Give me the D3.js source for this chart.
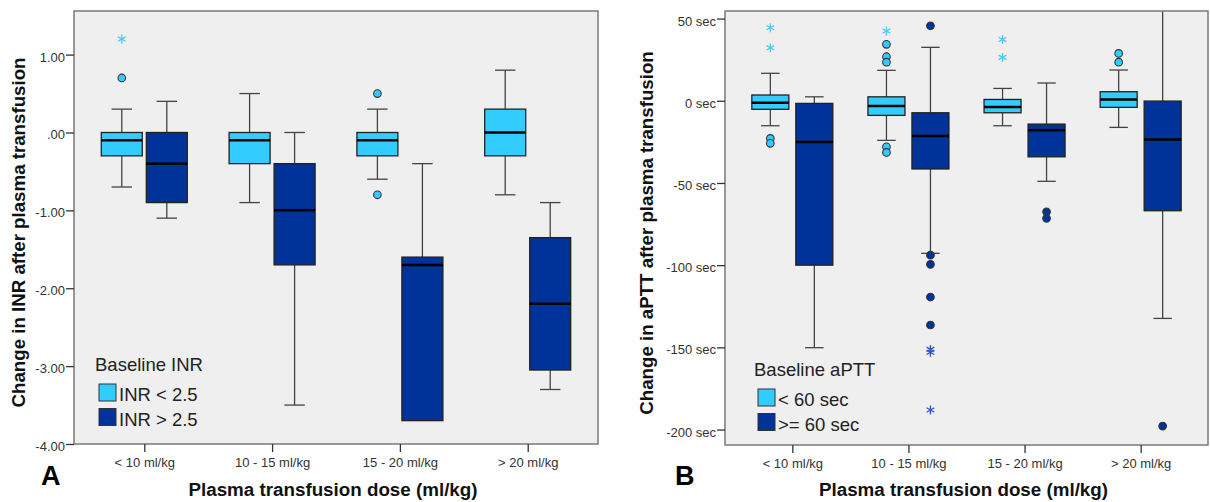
<!DOCTYPE html>
<html><head><meta charset="utf-8">
<script src="https://cdn.jsdelivr.net/npm/d3@7"></script>
<style>body{margin:0;background:#fff}svg{display:block;font-family:"Liberation Sans",Arial,sans-serif}</style>
</head><body><svg id="c" width="1210" height="502"></svg>
<script>
// ---------- data ----------
const doseCats = ["< 10 ml/kg", "10 - 15 ml/kg", "15 - 20 ml/kg", "> 20 ml/kg"];

// Panel A: change in INR, box stats [lowWhisker, Q1, median, Q3, highWhisker]
const inrLowBox  = [[-0.7,-0.3,-0.1,0.0,0.3],[-0.9,-0.4,-0.1,0.0,0.5],[-0.6,-0.3,-0.1,0.0,0.3],[-0.8,-0.3,0.0,0.3,0.8]];
const inrHighBox = [[-1.1,-0.9,-0.4,0.0,0.4],[-3.5,-1.7,-1.0,-0.4,0.0],[-3.7,-3.7,-1.7,-1.6,-0.4],[-3.3,-3.05,-2.2,-1.35,-0.9]];
const inrLowCircles  = [[0.7],[],[0.5,-0.8],[]];
const inrLowStars    = [[1.2],[],[],[]];
const inrHighCircles = [[],[],[],[]];
const inrHighStars   = [[],[],[],[]];
const inrTicks = [1, 0, -1, -2, -3, -4];
const inrTickLabels = ["1.00", ".00", "-1.00", "-2.00", "-3.00", "-4.00"];
const inrLegend = ["INR < 2.5", "INR > 2.5"];

// Panel B: change in aPTT (sec)
const apttLowBox  = [[-15.2,-5.2,-1.2,3.5,16.7],[-24.1,-8.9,-3.2,2.4,18.5],[-15.2,-7.3,-3.8,0.8,7.5],[-16.2,-4.0,0.8,5.5,18.7]];
const apttHighBox = [[-150.2,-100,-25.1,-1.6,2.4],[-92.8,-41.5,-21.5,-7.3,32.5],[-49,-34.1,-18,-14.2,10.8],[-132.4,-66.9,-23.5,-0.2,80]];
const apttLowCircles  = [[-22.9,-25.9],[34.3,26.8,23.5,-28,-31.4],[],[28.8,23.5]];
const apttLowStars    = [[44.4,32.2],[42.4],[37.3,26.4],[]];
const apttHighCircles = [[],[45.6,-93.9,-99.5,-119.4,-136.4],[-67.5,-71.5],[-197.9]];
const apttHighStars   = [[],[-151.2,-153,-188.1],[],[]];
const apttTicks = [50, 0, -50, -100, -150, -200];
const apttTickLabels = ["50 sec", "0 sec", "-50 sec", "-100 sec", "-150 sec", "-200 sec"];
const apttLegend = ["< 60 sec", ">= 60 sec"];

const LIGHT = "#33CCFF", DARK = "#003399";
const LIGHT_STAR = "#4FC8F5", DARK_STAR = "#3355BB";

const svg = d3.select("#c");

function drawPanel(cfg) {
  const g = svg.append("g");
  const x = d3.scalePoint().domain(doseCats).range([cfg.x0, cfg.x1]).padding(cfg.pad);
  const y = d3.scaleLinear().domain(cfg.yDomain).range([cfg.y1, cfg.y0]);

  g.append("rect").attr("x", cfg.x0).attr("y", cfg.y0)
    .attr("width", cfg.x1 - cfg.x0).attr("height", cfg.y1 - cfg.y0)
    .attr("fill", "#EFEFEF");

  const clipId = "clip" + cfg.id;
  svg.append("clipPath").attr("id", clipId).append("rect")
    .attr("x", cfg.x0).attr("y", cfg.y0).attr("width", cfg.x1 - cfg.x0).attr("height", cfg.y1 - cfg.y0);
  const plot = g.append("g").attr("clip-path", `url(#${clipId})`);

  const groups = [
    {box: cfg.lowBox, circles: cfg.lowCircles, stars: cfg.lowStars, off: -cfg.off, fill: LIGHT, star: LIGHT_STAR},
    {box: cfg.highBox, circles: cfg.highCircles, stars: cfg.highStars, off: cfg.off, fill: DARK, star: DARK_STAR}
  ];
  const bw = cfg.bw;
  groups.forEach(gr => {
    doseCats.forEach((cat, i) => {
      const [lo, q1, med, q3, hi] = gr.box[i];
      const cx = x(cat) + gr.off;
      const wl = plot.append("g").attr("stroke", "#444").attr("stroke-width", 1.3);
      wl.append("line").attr("x1", cx).attr("x2", cx).attr("y1", y(q3)).attr("y2", y(hi));
      wl.append("line").attr("x1", cx).attr("x2", cx).attr("y1", y(q1)).attr("y2", y(lo));
      wl.append("line").attr("x1", cx - bw / 4).attr("x2", cx + bw / 4).attr("y1", y(hi)).attr("y2", y(hi));
      if (lo !== q1) wl.append("line").attr("x1", cx - bw / 4).attr("x2", cx + bw / 4).attr("y1", y(lo)).attr("y2", y(lo));
      plot.append("rect").attr("x", cx - bw / 2).attr("y", y(q3))
        .attr("width", bw).attr("height", Math.max(0.5, y(q1) - y(q3)))
        .attr("fill", gr.fill).attr("stroke", "#222").attr("stroke-width", 1.3);
      plot.append("line").attr("x1", cx - bw / 2).attr("x2", cx + bw / 2)
        .attr("y1", y(med)).attr("y2", y(med)).attr("stroke", "#000").attr("stroke-width", 2.5);
      gr.circles[i].forEach(v => {
        plot.append("circle").attr("cx", cx).attr("cy", y(v)).attr("r", 3.8)
          .attr("fill", gr.fill).attr("stroke", "#333").attr("stroke-width", 1.1);
      });
      gr.stars[i].forEach(v => {
        plot.append("path").attr("transform", `translate(${cx},${y(v)})`)
          .attr("d", d3.symbol(d3.symbolAsterisk, 55)())
          .attr("fill", "none").attr("stroke", gr.star).attr("stroke-width", 1.3);
      });
    });
  });

  // frame
  g.append("rect").attr("x", cfg.x0).attr("y", cfg.y0)
    .attr("width", cfg.x1 - cfg.x0).attr("height", cfg.y1 - cfg.y0)
    .attr("fill", "none").attr("stroke", "#7a7a7a").attr("stroke-width", 1.5);

  // y axis
  const yAxis = d3.axisLeft(y).tickValues(cfg.ticks).tickSize(8).tickPadding(1)
    .tickFormat((d, i) => cfg.tickLabels[i]);
  const ya = g.append("g").attr("transform", `translate(${cfg.x0},0)`).call(yAxis);
  ya.select(".domain").remove();
  ya.selectAll("line").attr("stroke", "#333").attr("stroke-width", 1.3);
  ya.selectAll("text").attr("font-size", 13).attr("fill", "#333").attr("dy", "0.5em")
    .attr("font-family", '"Liberation Sans",Arial,sans-serif');

  // x axis
  const xAxis = d3.axisBottom(x).tickSize(8).tickPadding(6);
  const xa = g.append("g").attr("transform", `translate(0,${cfg.y1})`).call(xAxis);
  xa.select(".domain").remove();
  xa.selectAll("line").attr("stroke", "#333").attr("stroke-width", 1.3);
  xa.selectAll("text").attr("font-size", 13).attr("fill", "#333")
    .attr("font-family", '"Liberation Sans",Arial,sans-serif');

  // titles
  g.append("text").attr("x", (cfg.x0 + cfg.x1) / 2 - 3).attr("y", 496)
    .attr("text-anchor", "middle").attr("font-weight", "bold").attr("font-size", 18.8)
    .attr("fill", "#111").text("Plasma transfusion dose (ml/kg)");
  g.append("text").attr("transform", `translate(${cfg.ytx},${(cfg.y0 + cfg.y1) / 2 + 5}) rotate(-90)`)
    .attr("text-anchor", "middle").attr("font-weight", "bold").attr("font-size", 18.7)
    .attr("fill", "#111").text(cfg.yTitle);
  g.append("text").attr("x", cfg.letterX).attr("y", 485).attr("font-weight", "bold")
    .attr("font-size", 27).attr("fill", "#000").text(cfg.letter);

  // legend
  const lg = g.append("g");
  lg.append("text").attr("x", cfg.legX - 4).attr("y", cfg.legY).attr("font-size", 18.5)
    .attr("fill", "#222").text(cfg.legTitle);
  [LIGHT, DARK].forEach((c, i) => {
    lg.append("rect").attr("x", cfg.legX).attr("y", cfg.legY + 13 + i * 24.5).attr("width", 17).attr("height", 17)
      .attr("fill", c).attr("stroke", "#333").attr("stroke-width", 1);
    lg.append("text").attr("x", cfg.legX + 20).attr("y", cfg.legY + 30 + i * 24.5).attr("font-size", 18.5)
      .attr("fill", "#222").text(cfg.legend[i]);
  });
}

drawPanel({
  id: "A", x0: 74, x1: 598, y0: 11, y1: 444, pad: 0.55, yDomain: [-4, 1.56],
  lowBox: inrLowBox, highBox: inrHighBox, lowCircles: inrLowCircles, lowStars: inrLowStars,
  highCircles: inrHighCircles, highStars: inrHighStars, off: 22.5, bw: 41,
  ticks: inrTicks, tickLabels: inrTickLabels, yTitle: "Change in INR after plasma transfusion", ytx: 25,
  letter: "A", letterX: 41, legTitle: "Baseline INR", legend: inrLegend, legX: 99, legY: 371
});
drawPanel({
  id: "B", x0: 725, x1: 1208, y0: 11, y1: 445, pad: 0.58, yDomain: [-209.4, 54.6],
  lowBox: apttLowBox, highBox: apttHighBox, lowCircles: apttLowCircles, lowStars: apttLowStars,
  highCircles: apttHighCircles, highStars: apttHighStars, off: 22, bw: 37,
  ticks: apttTicks, tickLabels: apttTickLabels, yTitle: "Change in aPTT after plasma transfusion", ytx: 653,
  letter: "B", letterX: 675, legTitle: "Baseline aPTT", legend: apttLegend, legX: 758, legY: 376
});
</script></body></html>
